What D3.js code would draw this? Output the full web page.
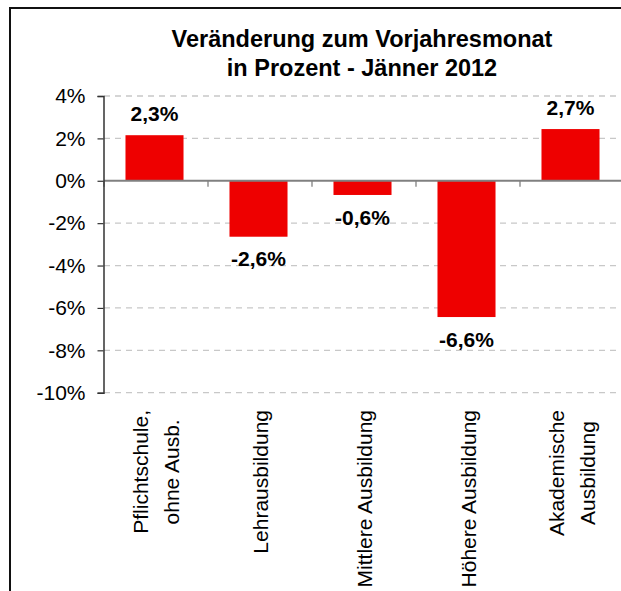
<!DOCTYPE html>
<html>
<head>
<meta charset="utf-8">
<script src="https://cdn.jsdelivr.net/npm/d3@7"></script>
<style>
  html, body { margin: 0; padding: 0; background: #fff; }
  text { font-family: "Liberation Sans", Arial, sans-serif; }
</style>
</head>
<body>
<div id="chart"></div>
<script>
// Data
const categories = [
    ["Pflichtschule,", "ohne Ausb."],
    ["Lehrausbildung"],
    ["Mittlere Ausbildung"],
    ["Höhere Ausbildung"],
    ["Akademische", "Ausbildung"]
];
const values = [2.15, -2.64, -0.67, -6.43, 2.44];
const valueLabels = ["2,3%", "-2,6%", "-0,6%", "-6,6%", "2,7%"];
const yTicks = [4, 2, 0, -2, -4, -6, -8, -10];
const titleLines = ["Veränderung zum Vorjahresmonat", "in Prozent - Jänner 2012"];

const width = 621, height = 591;

const svg = d3.select("#chart")
    .append("svg")
    .attr("width", width)
    .attr("height", height);

svg.append("rect")
    .attr("width", width)
    .attr("height", height)
    .attr("fill", "#fff");

// Outer chart frame (runs off the right and bottom edge)
svg.append("rect")
    .attr("x", 10)
    .attr("y", 8)
    .attr("width", 700)
    .attr("height", 700)
    .attr("fill", "none")
    .attr("stroke", "#111")
    .attr("stroke-width", 2);

// Scales
const y = d3.scaleLinear()
    .domain([-10, 4])
    .range([392.7, 96]);

const x = d3.scaleBand()
    .domain(d3.range(categories.length))
    .range([104, 624])
    .paddingInner(0.442)
    .paddingOuter(0.221);

const step = x.step();
const left = x.range()[0], right = x.range()[1];

// Title
svg.append("text")
    .attr("text-anchor", "middle")
    .attr("font-size", "23.5px")
    .attr("font-weight", "bold")
    .attr("fill", "#000")
    .selectAll("tspan")
    .data(titleLines)
    .enter().append("tspan")
    .attr("x", 362)
    .attr("y", (d, i) => 46.5 + i * 29)
    .text(d => d);

// Dashed gridlines
svg.append("g")
    .selectAll("line")
    .data(yTicks.filter(d => d !== 0))
    .enter().append("line")
    .attr("x1", left)
    .attr("x2", right)
    .attr("y1", d => y(d))
    .attr("y2", d => y(d))
    .attr("stroke", "#c8c8c8")
    .attr("stroke-width", 1.3)
    .attr("stroke-dasharray", "6,5");

// Bars
svg.append("g")
    .selectAll("rect")
    .data(values)
    .enter().append("rect")
    .attr("x", (d, i) => x(i) - 1.5)
    .attr("width", x.bandwidth())
    .attr("y", d => y(Math.max(0, d)))
    .attr("height", d => Math.abs(y(d) - y(0)))
    .attr("fill", "#ee0000");

// Zero line with category ticks
svg.append("line")
    .attr("x1", left)
    .attr("x2", right)
    .attr("y1", y(0))
    .attr("y2", y(0))
    .attr("stroke", "#808080")
    .attr("stroke-width", 2);

svg.append("g")
    .selectAll("line")
    .data(d3.range(categories.length + 1))
    .enter().append("line")
    .attr("x1", i => left + i * step)
    .attr("x2", i => left + i * step)
    .attr("y1", y(0))
    .attr("y2", y(0) + 6)
    .attr("stroke", "#808080")
    .attr("stroke-width", 1.3);

// Y axis
const yAxis = d3.axisLeft(y)
    .tickValues(yTicks)
    .tickSize(6)
    .tickPadding(12)
    .tickFormat(d => d + "%");

const axisG = svg.append("g")
    .attr("transform", "translate(103.5,0)")
    .call(yAxis);

axisG.select(".domain")
    .attr("stroke", "#333")
    .attr("stroke-width", 1.5);
axisG.selectAll(".tick line")
    .attr("stroke", "#333")
    .attr("stroke-width", 1.2);
axisG.selectAll(".tick text")
    .attr("font-size", "21px")
    .attr("font-family", "'Liberation Sans', Arial, sans-serif")
    .attr("fill", "#000");

// Value labels
svg.append("g")
    .selectAll("text")
    .data(values)
    .enter().append("text")
    .attr("x", (d, i) => x(i) + x.bandwidth() / 2 - 1.5)
    .attr("y", d => d >= 0 ? y(d) - 22 : y(d) + 22)
    .attr("dy", "0.36em")
    .attr("text-anchor", "middle")
    .attr("font-size", "21px")
    .attr("font-weight", "bold")
    .attr("fill", "#000")
    .text((d, i) => valueLabels[i]);

// Rotated category labels, block top at y = 410
const lineGap = 31;
const catG = svg.append("g")
    .selectAll("g")
    .data(categories)
    .enter().append("g");

catG.each(function(lines, i) {
    const g = d3.select(this);
    const cx = x(i) + x.bandwidth() / 2;
    const texts = g.selectAll("text")
        .data(lines)
        .enter().append("text")
        .attr("text-anchor", "middle")
        .attr("font-size", "21px")
        .attr("fill", "#000")
        .text(d => d);
    const maxLen = d3.max(texts.nodes(), n => n.getComputedTextLength());
    const cy = 410 + maxLen / 2;
    texts.attr("transform", (d, j) => {
        const bx = cx + (j - (lines.length - 1) / 2) * lineGap + 7.5;
        return `translate(${bx},${cy}) rotate(-90)`;
    });
});
</script>
</body>
</html>
